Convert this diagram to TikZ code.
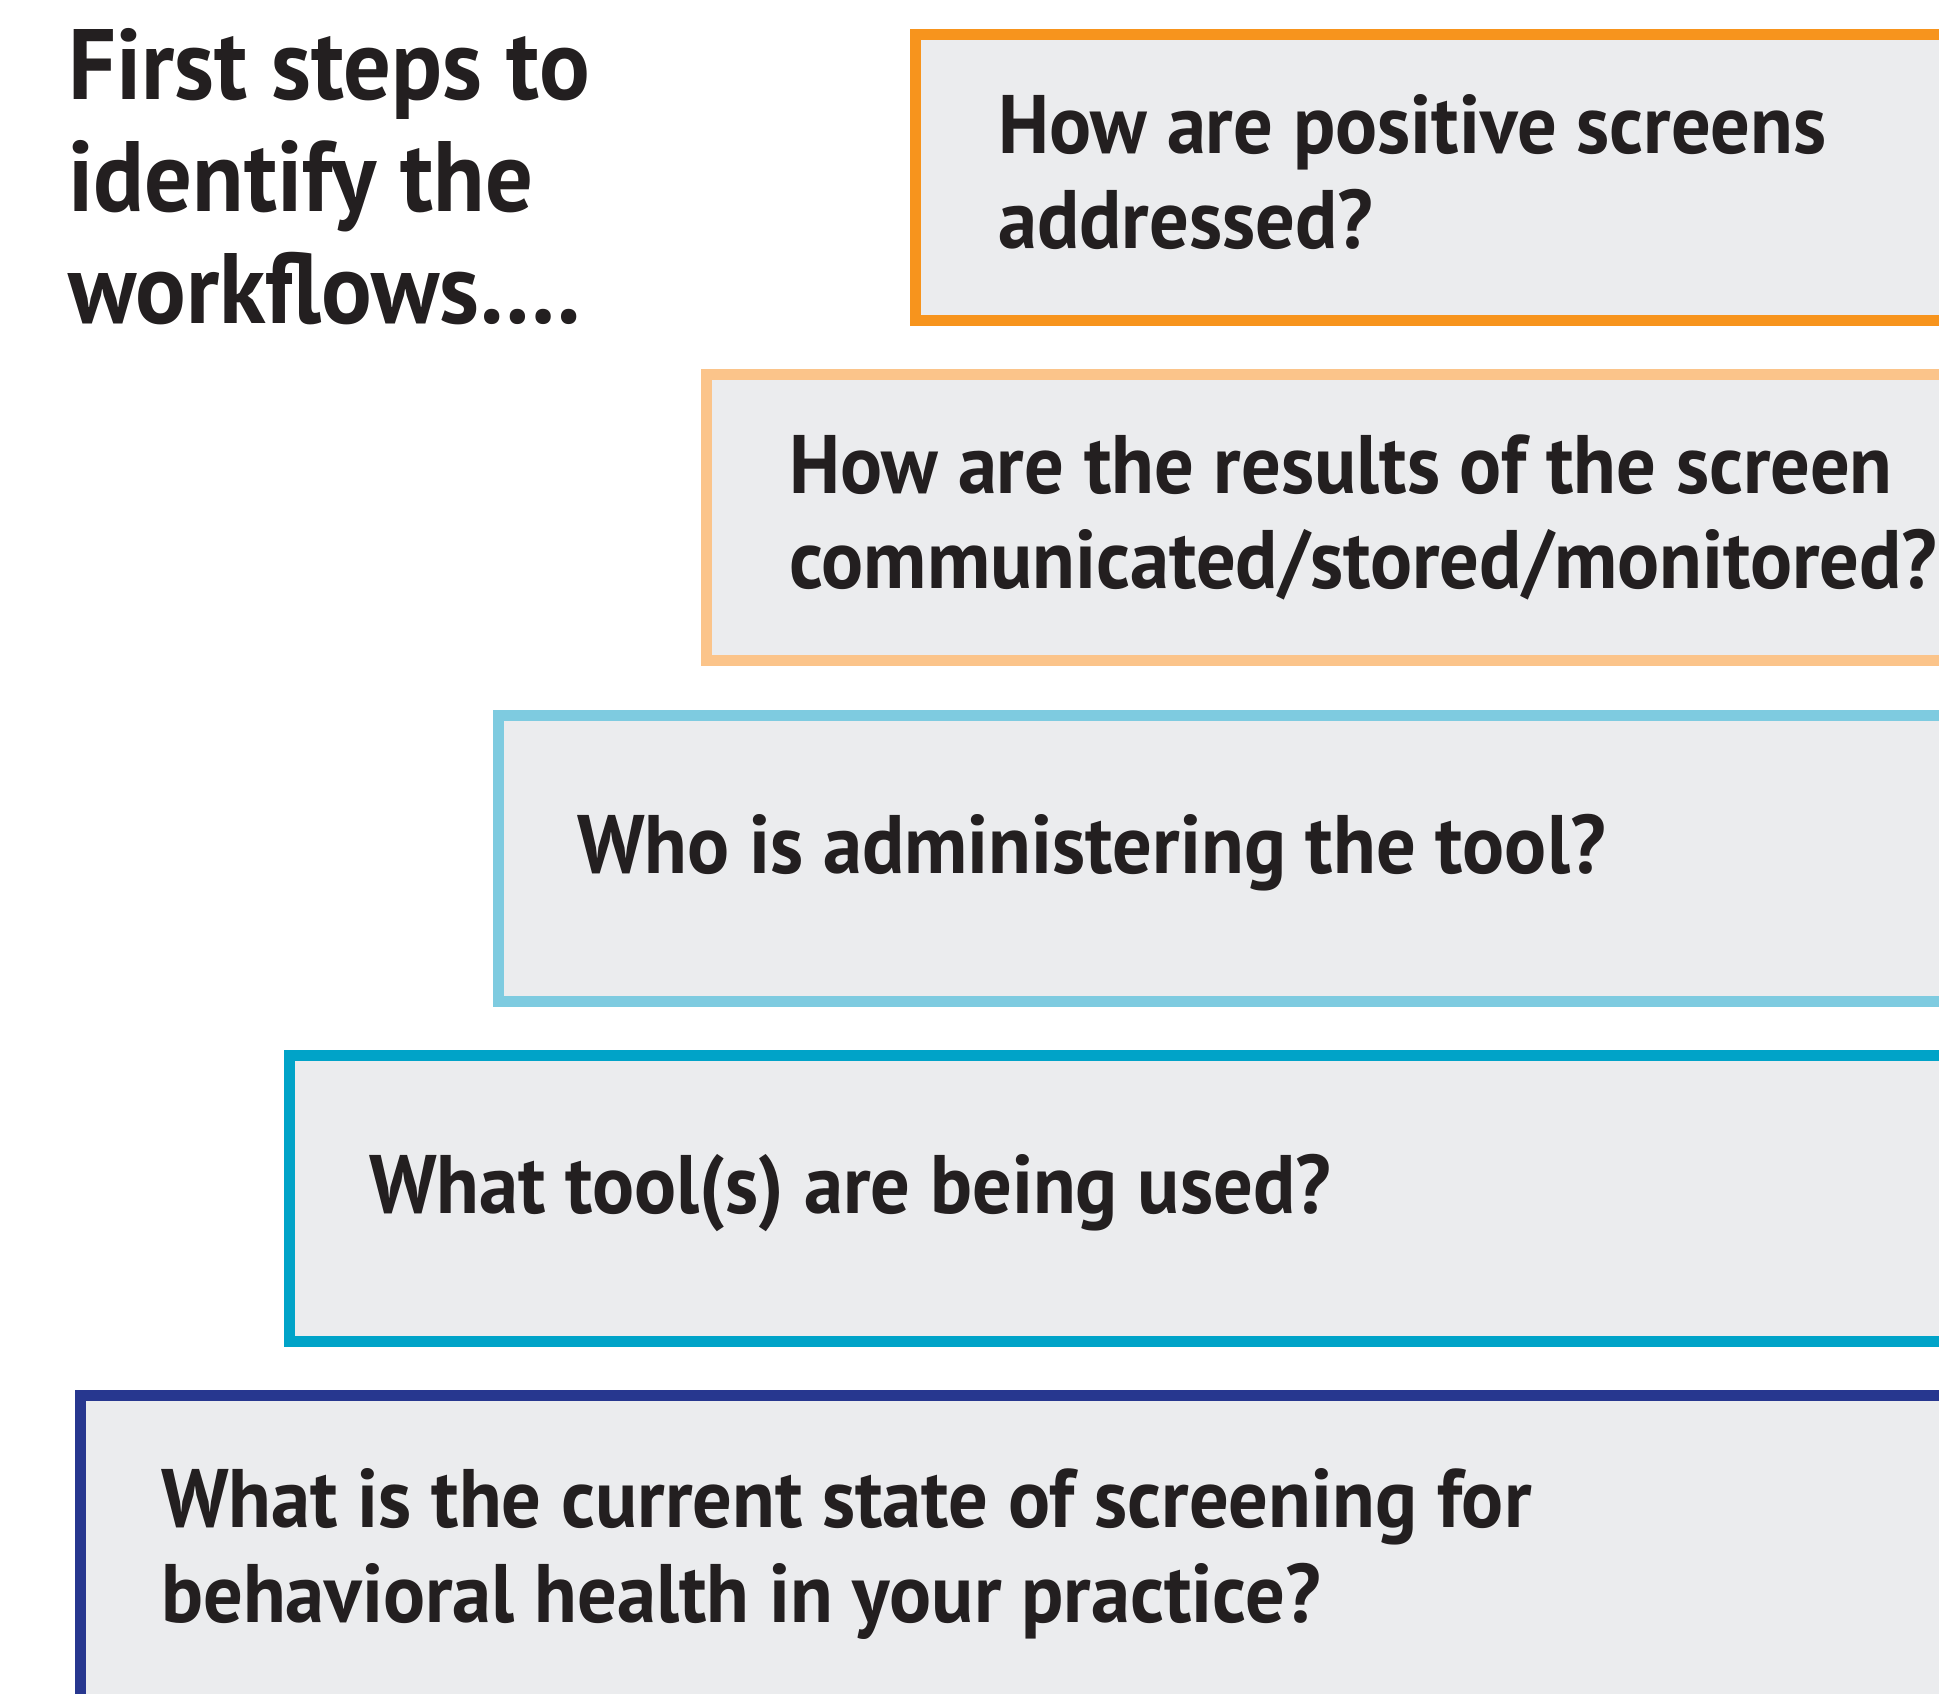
\documentclass[tikz,border=0pt]{standalone}
\usepackage{fontspec}
\setmainfont{PT Sans}[FakeStretch=0.945]
\usetikzlibrary{positioning}

\definecolor{askorange}{HTML}{F7941D}
\definecolor{asklightorange}{HTML}{FBC48A}
\definecolor{asklightblue}{HTML}{7ECBE0}
\definecolor{askteal}{HTML}{00A3C8}
\definecolor{asknavy}{HTML}{27378F}
\definecolor{askfill}{HTML}{EBECEE}
\definecolor{asktext}{HTML}{231F20}

\tikzset{
  qbox/.style={draw, line width=11pt, fill=askfill, outer sep=0pt, inner sep=0pt,
    anchor=north west, minimum width=2000pt, minimum height=286pt},
  qtext/.style={anchor=base west, align=left, inner sep=0pt, text=asktext,
    font=\fontsize{83}{95}\selectfont\bfseries},
  headline/.style={anchor=base west, align=left, inner sep=0pt, text=asktext,
    font=\fontsize{100}{112}\selectfont\bfseries}
}

\begin{document}
\begin{tikzpicture}[x=1pt, y=-1pt]
    \useasboundingbox (0,0) rectangle (1939,1694);
    \clip (0,0) rectangle (1939,1694);

    % stair of boxes, top to bottom
    \node[qbox, draw=askorange] (b1) at (915.5,34.5) {};
    \node[qbox, draw=asklightorange] (b2) at (706.75,374.75) {};
    \node[qbox, draw=asklightblue] (b3) at (498,715) {};
    \node[qbox, draw=askteal] (b4) at (289.25,1055.25) {};
    \node[qbox, draw=asknavy, minimum height=400pt] (b5) at (80.5,1395.5) {};

    % questions (base = last line)
    \node[qtext] (q1) at (998,248) {How are positive screens\\addressed?};
    \node[qtext] (q2) at (789,588) {How are the results of the screen\\communicated/stored/monitored?};
    \node[qtext] (q3) at (577,873) {Who is administering the tool?};
    \node[qtext] (q4) at (369,1213) {What tool(s) are being used?};
    \node[qtext] (q5) at (161,1622) {What is the current state of screening for\\behavioral health in your practice?};

    \node[headline] (title) at (68,323) {First steps to\\identify the\\workflows\ldots.};
\end{tikzpicture}
\end{document}
